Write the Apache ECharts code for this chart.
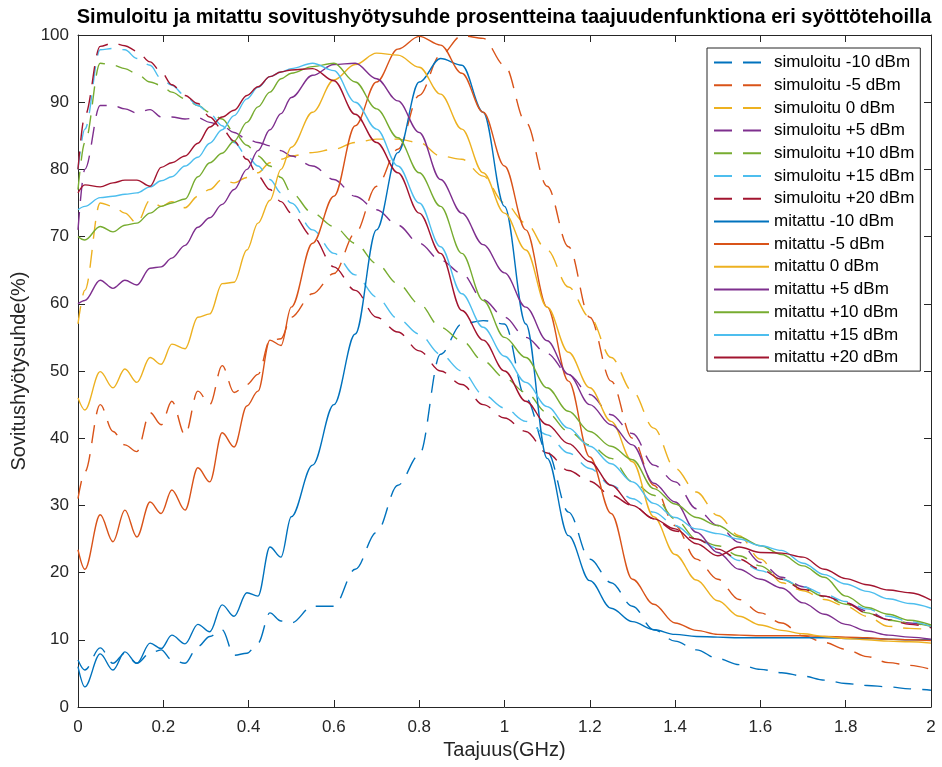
<!DOCTYPE html>
<html>
<head>
<meta charset="utf-8">
<title>Sovitushyötysuhde</title>
<script src="https://cdn.jsdelivr.net/npm/echarts@6/dist/echarts.min.js"></script>
<style>
  html, body { margin: 0; padding: 0; background: #fff; }
  #chart { width: 942px; height: 767px; }
</style>
</head>
<body>
<div id="chart"></div>
<script>
// taajuus (GHz) - tiheämpi alussa, jotta aaltoilu näkyy
var freq = [0, 0.016, 0.052, 0.082, 0.11, 0.138, 0.169, 0.195, 0.22, 0.251, 0.281, 0.309, 0.338, 0.366, 0.396, 0.422, 0.45, 0.476, 0.5,
            0.55, 0.6, 0.65, 0.7, 0.75, 0.8, 0.85, 0.9, 0.95, 1, 1.05, 1.1, 1.15, 1.2, 1.25, 1.3, 1.35, 1.4, 1.45, 1.5,
            1.55, 1.6, 1.65, 1.7, 1.75, 1.8, 1.85, 1.9, 1.95, 2];

// simuloitu (%)
var simM10 = [7, 5.5, 8.8, 6.5, 8, 6.5, 8, 8.5, 7, 6.5, 9, 10.5, 11.5, 7.7, 8, 9.5, 14, 12.8, 12.5,
              15, 15, 20.5, 26, 33, 37.5, 52.5, 57, 57.5, 57, 46, 38, 29, 22, 18.5, 15, 11.5, 9.8, 8.5, 7.2,
              6.3, 5.6, 5.1, 4.6, 4.0, 3.5, 3.2, 3.0, 2.7, 2.5];
var simM5 = [31, 35, 45, 41, 39, 38, 43.8, 42, 45.5, 40.5, 47, 45, 50.8, 46.8, 48, 49.5, 54.5, 54.8, 58,
             61.5, 64.5, 70.5, 77.5, 83, 91, 97, 99.9, 99.5, 95.5, 87, 77.5, 68.5, 58, 48.5, 40, 33, 27, 22, 19,
             16, 14, 12.5, 10.6, 9.6, 8.6, 7.5, 6.6, 6.2, 5.6];
var sim0 = [57, 62, 75, 74.5, 73.5, 72, 75.4, 74.5, 75.2, 74.3, 76, 77, 78.5, 78, 78.8, 79.5, 81, 81.5, 82,
            82.5, 83, 84, 84.5, 84.5, 84, 82, 81.5, 79, 75, 72, 68, 62.5, 58, 52, 47, 41.5, 35.5, 32, 28.5,
            25.5, 22, 18.5, 17.3, 16, 15, 13.5, 12, 11.7, 11.5];
var sim5 = [71, 80, 89.5, 89.5, 89, 88.4, 88.9, 87.8, 87.8, 87.5, 87.7, 87, 86.5, 85.5, 84.5, 84, 83.5, 82.8, 82,
            80.5, 78.5, 76, 74, 71.7, 69, 66.5, 64.5, 60.6, 58, 55, 52.6, 49.5, 46.5, 43.5, 40.7, 36, 33.5, 29.5, 27,
            24.5, 21.5, 19.3, 17.9, 16.5, 15.5, 14.3, 13, 12.5, 11.9];
var sim10 = [77, 84, 95.8, 95.5, 95, 94.2, 93, 92.5, 91.5, 90.5, 89.5, 88.5, 87.5, 85.5, 83.6, 82, 80.5, 78.8, 76.5,
             73.5, 71.5, 69, 66, 63, 60, 56.5, 54.5, 51.5, 49, 46.8, 43.8, 41, 39, 37, 33.5, 31.5, 28, 25, 24,
             22.5, 21, 19, 17.7, 16.4, 15.3, 14, 12.9, 12.5, 12];
var sim15 = [80, 86, 97.8, 98, 97.8, 96.5, 95.5, 93.5, 92.5, 91, 89.5, 88.3, 86.5, 84, 82, 80.5, 78.5, 76.5, 75,
             71, 67.5, 64.3, 61, 57.8, 55.5, 52.5, 50, 46.5, 44.5, 42.5, 40.5, 37.8, 35.5, 33, 31, 29, 27, 25, 23.6,
             21.8, 20.3, 19, 17.9, 16.8, 15.7, 14.6, 13.5, 12.7, 12];
var sim20 = [80, 88, 98.3, 98.8, 98.4, 97.6, 96, 94.5, 92.6, 91, 89.8, 87.8, 86, 84.2, 81.5, 79, 77, 75.2, 73.5,
             70, 65.5, 62, 58, 55.8, 53, 50, 48, 45, 43, 41, 37.8, 35.2, 33.6, 31.5, 30, 28, 26.2, 25, 23.5,
             22, 20.5, 19, 17.5, 16.5, 15.5, 14, 13, 12.3, 11.8];

// mitattu (%)
var mitM10 = [6, 3, 7.9, 5.5, 8.2, 6.5, 9.5, 8.7, 10.7, 9.4, 12.3, 11.2, 15.2, 13.5, 17, 16.5, 23.8, 22.3, 28.3,
              36, 45, 55.5, 71, 82.5, 93, 96.5, 95.5, 88.5, 74.5, 57, 37, 25.5, 18.8, 14.7, 12.7, 11.5, 10.8, 10.5, 10.4,
              10.3, 10.3, 10.3, 10.3, 10.3, 10.2, 10.2, 10.1, 10.0, 10.0];
var mitM5 = [23.4, 20.5, 28.6, 24.6, 29.3, 25.3, 30.5, 28.8, 32.3, 29.3, 35.6, 33.5, 40.8, 38.7, 44.8, 47, 54.6, 53.8, 59.5,
             69, 76, 86.5, 93, 97.9, 99.8, 98.5, 94.3, 88.5, 80.5, 71, 59.5, 48.5, 37.2, 28.8, 19, 15.3, 12.5, 11.4, 10.8,
             10.7, 10.6, 10.6, 10.6, 10.5, 10.4, 10.3, 10.1, 10, 9.9];
var mit0 = [46, 44.2, 49.9, 47.5, 50.3, 48.3, 52, 51, 54, 53.3, 58, 58.5, 63, 63.2, 68, 72, 75.4, 80, 83.3,
            88.5, 93.3, 95.6, 97.3, 97, 95.2, 91.2, 86, 79.5, 73.5, 68, 59.5, 52.8, 47.5, 42.5, 36.5, 28.3, 22.7, 18.9, 15.8,
            13.5, 12.2, 11.4, 10.9, 10.5, 10.2, 10, 9.8, 9.7, 9.5];
var mit5 = [60, 60.5, 63.5, 62.3, 63.5, 62.8, 65.3, 65.5, 66.8, 68.7, 71.4, 72.8, 74.8, 77, 80, 82.8, 85.9, 88.3, 90.7,
            94, 95.6, 95.8, 93.5, 90.2, 85.5, 78.5, 73.5, 68.8, 64.6, 59.5, 54.5, 49.5, 45, 42, 39, 33.3, 30.5, 26, 23,
            20.5, 19, 17.7, 15.5, 13.8, 12.3, 11.3, 10.7, 10.4, 10.1];
var mit10 = [70, 69.5, 71.5, 70.7, 71.7, 72, 73.5, 74.5, 75, 75.6, 78.9, 81, 82.4, 84.2, 87, 89.3, 91.5, 93.5, 94.3,
             95.3, 95.8, 93, 89, 84.7, 79.5, 74.5, 67.5, 60.5, 55, 52, 47.5, 44, 41, 38.8, 36.8, 32.5, 30.2, 28.2, 27,
             25.3, 24, 22.7, 21, 19.3, 16.5, 14.8, 13.8, 12.9, 12.2];
var mit15 = [74, 74.5, 75.8, 76, 76.3, 76.5, 77.4, 78.3, 78.9, 80.5, 81.8, 83.9, 85.9, 88, 90.5, 92.2, 93.8, 94.5, 95,
             95.8, 94.7, 90, 86, 80.5, 75, 68.5, 61.5, 56.5, 52.2, 48.3, 44.7, 41.5, 38.8, 36.2, 33.5, 30.3, 28.2, 26.5, 25.8,
             25, 24, 23.3, 21.4, 19.7, 18.3, 17.2, 16.1, 15.4, 14.7];
var mit20 = [76.5, 77.7, 77.4, 78, 78.4, 78.4, 77.5, 80.3, 81, 82, 83.9, 86.3, 87.8, 88.8, 91, 92.3, 93.8, 94.5, 94.8,
             95, 93.2, 88.2, 84, 79.5, 73.5, 67.5, 59, 54.6, 50, 45.5, 42, 39.2, 36.5, 33, 30, 28, 26.5, 24.3, 22.5,
             23.8, 23, 22.9, 22.3, 20.5, 19.1, 18.2, 17.4, 17, 15.9];

var tehot = ['-10', '-5', '0', '+5', '+10', '+15', '+20'];
var varit = ['#0072BD', '#D95319', '#EDB120', '#7E2F8E', '#77AC30', '#4DBEEE', '#A2142F'];
var simData = [simM10, simM5, sim0, sim5, sim10, sim15, sim20];
var mitData = [mitM10, mitM5, mit0, mit5, mit10, mit15, mit20];

document.addEventListener('DOMContentLoaded', function () {
  var myChart = echarts.init(document.getElementById('chart'), null, { renderer: 'canvas' });

  function sarja(nimi, arvot, vari, katko) {
    return {
      name: nimi,
      type: 'line',
      data: freq.map(function (f, i) { return [f, arvot[i]]; }),
      showSymbol: false,
      symbol: 'none',
      smooth: 0.35,
      smoothMonotone: 'x',
      lineStyle: { color: vari, width: 1.4, type: katko ? [18, 11] : 'solid' },
      itemStyle: { color: vari },
      emphasis: { disabled: true },
      z: katko ? 2 : 3
    };
  }

  var series = [];
  tehot.forEach(function (t, i) {
    series.push(sarja('simuloitu ' + t + ' dBm', simData[i], varit[i], true));
  });
  tehot.forEach(function (t, i) {
    series.push(sarja('mitattu ' + t + ' dBm', mitData[i], varit[i], false));
  });

  var akseli = { color: '#262626', width: 1 };

  var option = {
    backgroundColor: '#ffffff',
    animation: false,
    textStyle: { fontFamily: 'Arial, "Liberation Sans", Helvetica, sans-serif' },
    title: {
      text: 'Simuloitu ja mitattu sovitushyötysuhde prosentteina taajuudenfunktiona eri syöttötehoilla',
      left: 499,
      top: 2,
      textAlign: 'center',
      textStyle: { fontSize: 20, fontWeight: 'bold', color: '#000' }
    },
    legend: {
      orient: 'vertical',
      left: 707,
      top: 48,
      itemWidth: 55,
      itemHeight: 17,
      itemGap: 5.7,
      padding: [6, 6, 5, 6],
      borderColor: '#262626',
      borderWidth: 1,
      backgroundColor: '#ffffff',
      itemStyle: { opacity: 0 },
      textStyle: { fontSize: 17, color: '#000', width: 138 },
      data: series.map(function (s) { return s.name; })
    },
    grid: { left: 78, right: 11, top: 35, bottom: 60, containLabel: false },
    xAxis: [{
      type: 'value', min: 0, max: 2, interval: 0.2, position: 'bottom',
      name: 'Taajuus(GHz)', nameLocation: 'middle', nameGap: 31,
      nameTextStyle: { fontSize: 20, color: '#262626' },
      axisLine: { show: true, onZero: false, lineStyle: akseli },
      axisTick: { inside: true, length: 7, lineStyle: akseli },
      axisLabel: { fontSize: 17, color: '#262626', margin: 12 },
      splitLine: { show: false }
    }, {
      type: 'value', min: 0, max: 2, interval: 0.2, position: 'top',
      axisLine: { show: true, onZero: false, lineStyle: akseli },
      axisTick: { inside: true, length: 7, lineStyle: akseli },
      axisLabel: { show: false },
      splitLine: { show: false }
    }],
    yAxis: [{
      type: 'value', min: 0, max: 100, interval: 10, position: 'left',
      name: 'Sovitushyötysuhde(%)', nameLocation: 'middle', nameGap: 48,
      nameTextStyle: { fontSize: 20, color: '#262626' },
      axisLine: { show: true, onZero: false, lineStyle: akseli },
      axisTick: { inside: true, length: 7, lineStyle: akseli },
      axisLabel: { fontSize: 17, color: '#262626', margin: 9 },
      splitLine: { show: false }
    }, {
      type: 'value', min: 0, max: 100, interval: 10, position: 'right',
      axisLine: { show: true, onZero: false, lineStyle: akseli },
      axisTick: { inside: true, length: 7, lineStyle: akseli },
      axisLabel: { show: false },
      splitLine: { show: false }
    }],
    series: series
  };

  myChart.setOption(option);
});
</script>
</body>
</html>
